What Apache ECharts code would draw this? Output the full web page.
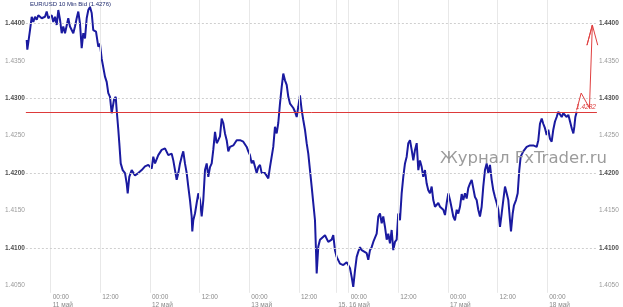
<!DOCTYPE html>
<html><head><meta charset="utf-8">
<script src="https://cdn.jsdelivr.net/npm/echarts@6/dist/echarts.min.js"></script>
<style>html,body{margin:0;padding:0;background:#fff}#c{width:623px;height:307px}</style>
</head><body><div id="c"></div>
<script>
// Hours counted from 11 May 00:00 with the weekend gap removed; values are EUR/USD bid.
const titleText = 'EUR/USD 10 Min Bid (1.4276)';
const watermarkText = 'Журнал FxTrader.ru';

const may10_11 = [[-5.80,1.4378],[-5.65,1.4365],[-5.00,1.4391],[-4.59,1.4409],[-4.20,1.4402],[-3.79,1.4409],[-3.38,1.4405],[-3.00,1.4411],[-2.17,1.4407],[-1.38,1.4409],[-0.97,1.4416],[-0.58,1.4407],[0.24,1.4411],[0.63,1.4402],[1.04,1.4409],[1.45,1.4398],[1.84,1.4418],[2.25,1.4405],[2.66,1.4387],[3.04,1.4396],[3.46,1.4387],[4.25,1.4407],[4.66,1.4396],[5.46,1.4387],[5.87,1.4396],[6.28,1.4407],[6.67,1.4416],[7.08,1.4400],[7.49,1.4367],[7.88,1.4387],[8.29,1.4380],[8.70,1.4407],[9.09,1.4418],[9.50,1.4422],[9.91,1.4414],[10.29,1.4391],[10.95,1.4389],[11.50,1.4369],[11.91,1.4373],[12.32,1.4353],[12.71,1.4351],[13.12,1.4329],[13.53,1.4322],[13.92,1.4307],[14.33,1.4302],[14.74,1.4280],[15.30,1.4298],[15.71,1.4302],[15.95,1.4284],[16.34,1.4258],[16.58,1.4240],[16.92,1.4213],[17.40,1.4204],[17.96,1.4200],[18.37,1.4186],[18.61,1.4173],[18.99,1.4195],[19.57,1.4204],[20.37,1.4197],[21.17,1.4200],[21.99,1.4204],[22.79,1.4209],[23.59,1.4211]];
const may12 = [[24.41,1.4206],[24.79,1.4222],[25.21,1.4213],[26.00,1.4224],[26.82,1.4231],[27.62,1.4233],[28.42,1.4224],[28.83,1.4226],[29.24,1.4226],[29.63,1.4217],[30.04,1.4204],[30.45,1.4191],[30.84,1.4200],[31.25,1.4213],[31.66,1.4222],[32.04,1.4229],[32.45,1.4213],[32.87,1.4200],[33.25,1.4182],[33.66,1.4164],[34.07,1.4142],[34.22,1.4122],[34.46,1.4137],[34.87,1.4146],[35.28,1.4160],[35.67,1.4173],[36.08,1.4164],[36.49,1.4142],[36.88,1.4164],[37.29,1.4204],[37.70,1.4213],[38.09,1.4195],[38.50,1.4208],[38.91,1.4213],[39.29,1.4231],[39.71,1.4255],[40.12,1.4240],[40.50,1.4244],[40.91,1.4249],[41.32,1.4273],[41.71,1.4267],[42.12,1.4253],[42.53,1.4244],[42.92,1.4229],[43.33,1.4235],[44.13,1.4237],[44.95,1.4244],[45.75,1.4244],[46.54,1.4242],[47.37,1.4235],[47.75,1.4229]];
const may13 = [[48.16,1.4224],[48.57,1.4213],[48.96,1.4217],[49.78,1.4200],[50.17,1.4208],[50.58,1.4211],[50.99,1.4200],[51.79,1.4200],[52.59,1.4193],[52.99,1.4208],[53.79,1.4235],[54.20,1.4262],[54.61,1.4253],[55.00,1.4267],[55.41,1.4293],[55.82,1.4315],[56.21,1.4333],[56.62,1.4324],[57.03,1.4318],[57.42,1.4302],[57.83,1.4293],[58.63,1.4287],[59.04,1.4282],[59.45,1.4275],[59.84,1.4289],[60.24,1.4304],[60.66,1.4284],[61.04,1.4271],[61.45,1.4258],[61.86,1.4240],[62.25,1.4226],[62.66,1.4204],[63.07,1.4182],[63.46,1.4160],[63.87,1.4137],[64.11,1.4097],[64.28,1.4066],[64.67,1.4102],[65.08,1.4111],[65.49,1.4111],[66.29,1.4117],[67.08,1.4108],[67.90,1.4111],[68.29,1.4117],[68.70,1.4097]];
const may15_16 = [[69.11,1.4088],[69.91,1.4079],[70.71,1.4077],[71.53,1.4081],[72.33,1.4073],[72.74,1.4061],[73.12,1.4048],[73.54,1.4070],[73.95,1.4088],[74.34,1.4095],[74.75,1.4101],[75.16,1.4097],[75.54,1.4095],[76.36,1.4093],[76.75,1.4084],[77.16,1.4097],[77.57,1.4101],[77.96,1.4108],[78.78,1.4119],[79.17,1.4142],[79.58,1.4146],[79.99,1.4133],[80.37,1.4142],[80.79,1.4128],[81.20,1.4111],[81.58,1.4119],[81.99,1.4106],[82.40,1.4124],[82.79,1.4097],[83.20,1.4108],[83.61,1.4111],[84.00,1.4146],[84.41,1.4137],[84.82,1.4173],[85.21,1.4195],[85.62,1.4213],[86.03,1.4222],[86.42,1.4240],[86.83,1.4244],[87.24,1.4231],[87.63,1.4217],[88.04,1.4231],[88.45,1.4240],[88.84,1.4204],[89.24,1.4217],[89.66,1.4208],[90.04,1.4195],[90.45,1.4204],[90.86,1.4186],[91.25,1.4177],[91.66,1.4173],[92.07,1.4182],[92.46,1.4164],[92.87,1.4155],[93.28,1.4157],[93.67,1.4160],[94.08,1.4155],[94.88,1.4151],[95.29,1.4144],[95.70,1.4160]];
const may17 = [[96.09,1.4173],[96.50,1.4164],[96.91,1.4153],[97.29,1.4142],[97.70,1.4137],[98.12,1.4151],[98.50,1.4146],[98.91,1.4155],[99.32,1.4172],[99.71,1.4164],[100.12,1.4173],[100.53,1.4166],[100.91,1.4180],[101.32,1.4186],[101.74,1.4191],[102.12,1.4180],[102.53,1.4168],[102.94,1.4164],[103.33,1.4151],[103.74,1.4142],[104.15,1.4155],[104.54,1.4182],[104.95,1.4204],[105.36,1.4213],[105.75,1.4200],[106.16,1.4211],[106.57,1.4191],[106.96,1.4177],[107.37,1.4168],[107.78,1.4160],[108.17,1.4151],[108.58,1.4128],[108.99,1.4146],[109.38,1.4164],[109.79,1.4182],[110.20,1.4173],[110.59,1.4164],[111.00,1.4137],[111.24,1.4122],[111.65,1.4146],[111.96,1.4157],[112.45,1.4164],[112.86,1.4173],[113.24,1.4204],[113.58,1.4222],[114.06,1.4220],[114.21,1.4229],[114.62,1.4231],[115.03,1.4235],[115.83,1.4237],[116.63,1.4237],[117.45,1.4235],[117.84,1.4244],[118.24,1.4266],[118.66,1.4273],[119.04,1.4266],[119.45,1.4260],[119.86,1.4251]];
const may18 = [[120.25,1.4258],[120.66,1.4246],[121.07,1.4242],[121.46,1.4258],[121.87,1.4269],[122.28,1.4275],[122.67,1.4282],[123.08,1.4284],[123.49,1.4275],[123.88,1.4280],[124.29,1.4280],[124.70,1.4275],[125.10,1.4278],[125.51,1.4269],[125.92,1.4260],[126.31,1.4253],[126.55,1.4262],[126.79,1.4275],[127.13,1.4282]];

const xTickHours = [0, 12, 24, 36, 48, 60, 69, 72, 84, 96, 108, 120];
const xTickTimes = ['00:00', '12:00', '00:00', '12:00', '00:00', '12:00', ' ', '00:00', '12:00', '00:00', '12:00', '00:00'];
const xTickDates = ['11 май', '', '12 май', '', '13 май', '', '15, 16 май', '', '', '17 май', '', '18 май'];
const yTickValues = [1.405, 1.410, 1.415, 1.420, 1.425, 1.430, 1.435, 1.440];
const yMajorValues = [1.410, 1.420, 1.430, 1.440];
const levelValue = 1.4282;
const levelText = '1.4282';
const arrowPath = [[127.1,1.4284],[128.2,1.4307],[130.2,1.4287],[130.9,1.4398],[129.6,1.4371],[130.9,1.4398],[132.2,1.4371]];

const FONT = 'Liberation Sans';
const priceData = [].concat(may10_11, may12, may13, may15_16, may17, may18);

function xLabel(v) {
  const i = xTickHours.findIndex(h => Math.abs(h - v) < 1e-6);
  if (i < 0) return '';
  let s = '{t|' + xTickTimes[i] + '}';
  if (xTickDates[i]) s += '\n{d|' + xTickDates[i] + '}';
  return s;
}
function yLabel(v) {
  const i = yTickValues.findIndex(t => Math.abs(t - v) < 1e-7);
  if (i < 0) return '';
  const major = yMajorValues.some(t => Math.abs(t - v) < 1e-7);
  return (major ? '{b|' : '{n|') + yTickValues[i].toFixed(4) + '}';
}
const yRich = {
  b: { fontSize: 6.5, fontWeight: 'bold', color: '#505050', fontFamily: FONT },
  n: { fontSize: 6.5, color: '#9a9a9a', fontFamily: FONT }
};
const yCommon = {
  type: 'value', min: 1.404, max: 1.44314, interval: 0.001,
  axisLine: { show: false }, axisTick: { show: false }, splitLine: { show: false }
};

const chart = echarts.init(document.getElementById('c'), null, { renderer: 'canvas' });
chart.setOption({
  animation: false,
  backgroundColor: '#ffffff',
  title: [
    { text: titleText, left: 30, top: 1, padding: 0,
      textStyle: { fontSize: 6, fontWeight: 'normal', color: '#1e2a6e', fontFamily: FONT } },
    { text: watermarkText, left: 440, top: 150, padding: 0,
      textStyle: { fontSize: 16.5, fontWeight: 'normal', color: '#9c9c9c', fontFamily: 'DejaVu Sans' } }
  ],
  grid: { left: 25.87, right: 26.1, top: 0, bottom: 14.2, containLabel: false, outerBoundsMode: 'none' },
  xAxis: {
    type: 'value', min: -6, max: 132, interval: 3,
    axisLine: { show: false }, axisTick: { show: false }, splitLine: { show: false },
    axisLabel: {
      formatter: xLabel, align: 'left', margin: 0, padding: [0, 0, 0, 2],
      showMinLabel: true, showMaxLabel: true, hideOverlap: false,
      rich: {
        t: { fontSize: 6.5, color: '#8a8a8a', lineHeight: 8.5, fontFamily: FONT },
        d: { fontSize: 6.5, color: '#8a8a8a', lineHeight: 8.5, fontFamily: FONT }
      }
    }
  },
  yAxis: [
    Object.assign({}, yCommon, { position: 'left', axisLabel: { formatter: yLabel, margin: 1, rich: yRich, hideOverlap: false } }),
    Object.assign({}, yCommon, { position: 'right', axisLabel: { formatter: yLabel, margin: 2, rich: yRich, hideOverlap: false } })
  ],
  series: [
    {
      type: 'line', data: [], z: 1, silent: true,
      markLine: {
        silent: true, symbol: ['none', 'none'], animation: false, precision: 4, label: { show: false },
        data: xTickHours.map(h => ({ xAxis: h, lineStyle: { color: '#e8e8e8', type: 'solid', width: 1 } }))
          .concat(yMajorValues.map(v => ({ yAxis: v, lineStyle: { color: '#cfcfcf', type: [2, 2], width: 1 } })))
      }
    },
    {
      type: 'line', data: priceData, z: 3, showSymbol: false, silent: true,
      lineStyle: { color: '#1a1aa0', width: 2 }
    },
    {
      type: 'line', data: [], z: 4, silent: true,
      markLine: {
        silent: true, symbol: ['none', 'none'], animation: false, precision: 4,
        data: [{ yAxis: levelValue }],
        lineStyle: { color: '#dd3a3a', type: 'solid', width: 1 },
        label: { show: true, position: 'insideEndTop', formatter: levelText, distance: 1,
          fontSize: 6.5, fontStyle: 'italic', color: '#dd3a3a', fontFamily: FONT }
      }
    },
    {
      type: 'line', data: arrowPath, z: 5, showSymbol: false, silent: true, clip: false,
      lineStyle: { color: '#e04040', width: 1 }
    }
  ]
});
</script>
</body></html>
